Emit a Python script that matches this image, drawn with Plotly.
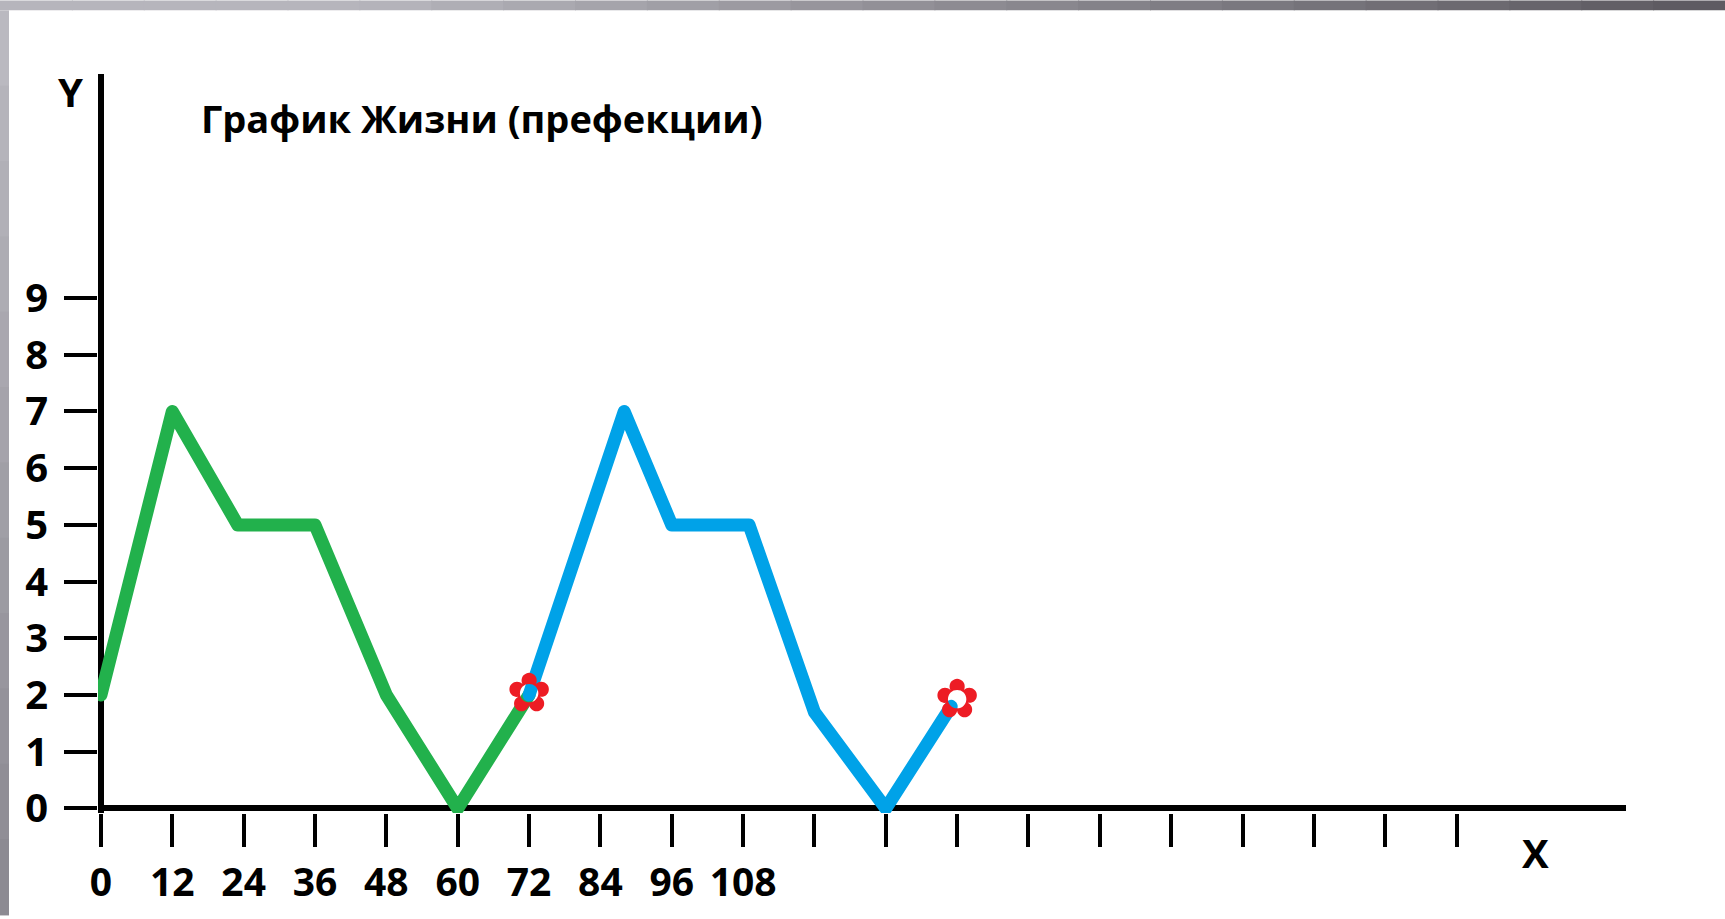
import plotly.graph_objects as go

# ---------------- data ----------------
x_green = [0, 12, 23, 36, 48, 60, 72]
y_green = [2, 7, 5, 5, 2, 0, 2]

x_blue = [72, 88, 96, 109, 120, 132, 143]
y_blue = [2, 7, 5, 5, 1.7, 0, 1.8]

mark_x = [72, 144]
mark_y = [1.95, 1.85]

x_tickvals = list(range(0, 229, 12))
x_ticklabels = ["0", "12", "24", "36", "48", "60", "72", "84", "96", "108"] + [""] * 10
y_tickvals = [0, 1, 2, 3, 4, 5, 6, 7, 8, 9]
y_ticklabels = ["0", "1", "2", "3", "4", "5", "6", "7", "8", "9"]

title_text = "График Жизни (префекции)"

# ---------------- layout geometry ----------------
W, H = 1725, 919
ML, MR, MT, MB = 98, 99, 74, 102
PW, PH = W - ML - MR, H - MT - MB


def pxx(px):
    return (px - ML) / PW


def pxy(py):
    return (H - MB - py) / PH


FONT = "Open Sans"

fig = go.Figure()

fig.add_trace(go.Scatter(x=x_green, y=y_green, mode="lines",
                         line=dict(color="#22b14c", width=13), hoverinfo="skip"))
fig.add_trace(go.Scatter(x=x_blue, y=y_blue, mode="lines",
                         line=dict(color="#00a2e8", width=13), hoverinfo="skip"))
fig.add_trace(go.Scatter(x=mark_x, y=mark_y, mode="text", text=["✿"] * len(mark_x),
                         textfont=dict(family="DejaVu Sans", size=54, color="#ed1c24"),
                         cliponaxis=False, hoverinfo="skip"))

# grey frame bands (top gradient and left strip)
shapes = []
n = 24
c0 = (182, 181, 188)
c1 = (94, 91, 98)
for i in range(n):
    t = i / (n - 1)
    t2 = max(0.0, (t - 0.2) / 0.8)
    col = tuple(int(c0[k] + (c1[k] - c0[k]) * t2) for k in range(3))
    shapes.append(dict(type="rect", xref="paper", yref="paper",
                       x0=pxx(W * i / n), x1=pxx(W * (i + 1) / n + 1),
                       y0=pxy(10), y1=pxy(0), line=dict(width=0),
                       fillcolor="rgb(%d,%d,%d)" % col, layer="above"))
m = 12
l0 = (186, 185, 192)
l1 = (140, 138, 146)
for i in range(m):
    t = i / (m - 1)
    col = tuple(int(l0[k] + (l1[k] - l0[k]) * t) for k in range(3))
    shapes.append(dict(type="rect", xref="paper", yref="paper",
                       x0=pxx(0), x1=pxx(9),
                       y0=pxy(10 + (H - 10) * (i + 1) / m + 1), y1=pxy(10 + (H - 10) * i / m),
                       line=dict(width=0),
                       fillcolor="rgb(%d,%d,%d)" % col, layer="above"))

annotations = [
    dict(text="<b>" + title_text + "</b>", xref="paper", yref="paper",
         x=pxx(199), y=pxy(118), xanchor="left", yanchor="middle", showarrow=False,
         font=dict(family=FONT, size=38, color="black")),
    dict(text="<b>Y</b>", xref="paper", yref="paper",
         x=pxx(70), y=pxy(92), xanchor="center", yanchor="middle", showarrow=False,
         font=dict(family=FONT, size=40, color="black")),
    dict(text="<b>X</b>", xref="paper", yref="paper",
         x=pxx(1535), y=pxy(857), xanchor="center", yanchor="middle", showarrow=False,
         font=dict(family=FONT, size=40, color="black")),
]

fig.update_layout(
    width=W, height=H,
    margin=dict(l=ML, r=MR, t=MT, b=MB, pad=0),
    paper_bgcolor="white", plot_bgcolor="white",
    showlegend=False,
    shapes=shapes,
    annotations=annotations,
    xaxis=dict(range=[-0.5, 256.5], showgrid=False, showline=False,
               zeroline=True, zerolinecolor="black", zerolinewidth=6,
               tickmode="array", tickvals=x_tickvals, ticktext=x_ticklabels,
               ticks="outside", ticklen=33, tickwidth=4, tickcolor="black",
               ticklabelstandoff=2,
               tickfont=dict(family=FONT, size=39, color="black", weight="bold"),
               fixedrange=True),
    yaxis=dict(range=[-0.08, 12.95], showgrid=False, showline=False,
               zeroline=True, zerolinecolor="black", zerolinewidth=6,
               tickmode="array", tickvals=y_tickvals, ticktext=y_ticklabels,
               ticks="outside", ticklen=33, tickwidth=4, tickcolor="black",
               ticklabelstandoff=8,
               tickfont=dict(family=FONT, size=40, color="black", weight="bold"),
               fixedrange=True),
)

post = (
    "document.body.style.margin='0';"
    "var s=document.createElement('style');"
    "s.innerHTML='.js-line{stroke-linejoin:round;stroke-linecap:round;}';"
    "document.head.appendChild(s);"
)

fig.write_html("out.html", config={"displayModeBar": False}, post_script=post)
